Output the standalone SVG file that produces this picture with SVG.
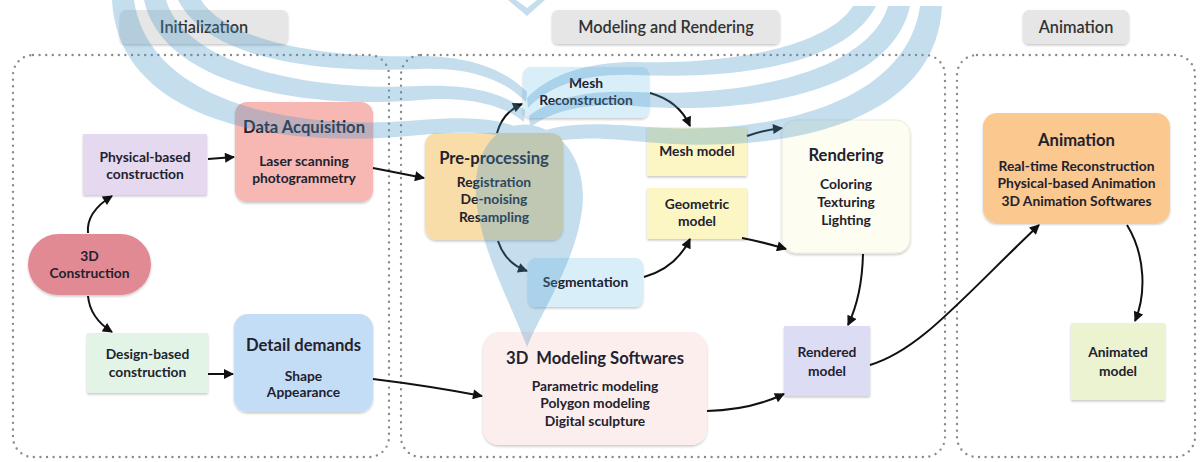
<svg xmlns="http://www.w3.org/2000/svg" width="1200" height="462" viewBox="0 0 1200 462">
  <defs>
    <filter id="shadow" x="-10%" y="-10%" width="120%" height="130%">
      <feDropShadow dx="0" dy="1.5" stdDeviation="1.2" flood-color="#000" flood-opacity="0.22"/>
    </filter>
    <marker id="arrow" viewBox="0 0 10 10" refX="9" refY="5" markerWidth="11" markerHeight="10" markerUnits="userSpaceOnUse" orient="auto">
      <path d="M0,0 L10,5 L0,10 Z" fill="#111"/>
    </marker>
    <style>
      .stage { fill: none; stroke: #8a8a8a; stroke-width: 2.4; stroke-dasharray: 0 6.6; stroke-linecap: round; }
      .hdr { fill: #e6e6e6; filter: url(#shadow); }
      .hdrtxt { font-family: Lato, "Liberation Sans", sans-serif; font-size: 16.3px; font-weight: 600; fill: #333; text-anchor: middle; }
      .box { filter: url(#shadow); }
      .t { font-family: Lato, "Liberation Sans", sans-serif; font-size: 13.8px; font-weight: 700; fill: #22222e; text-anchor: middle; }
      .title { font-family: Lato, "Liberation Sans", sans-serif; font-size: 16.6px; font-weight: 700; fill: #22222e; text-anchor: middle; }
      .edge { fill: none; stroke: #111; stroke-width: 2; marker-end: url(#arrow); }
      .mark { fill: #4a97c9; }
    </style>
  </defs>

  <rect width="1200" height="462" fill="#ffffff"/>

  <!-- stage frames -->
  <g id="stages">
    <rect class="stage" x="13" y="55" width="376" height="402" rx="20"/>
    <rect class="stage" x="401" y="55" width="544" height="402" rx="20"/>
    <rect class="stage" x="957" y="55" width="238" height="402" rx="20"/>
  </g>

  <!-- stage headers -->
  <g id="hdr-init">
    <rect class="hdr" x="120" y="10" width="168" height="34" rx="6"/>
    <text class="hdrtxt" x="204" y="33">Initialization</text>
  </g>
  <g id="hdr-model">
    <rect class="hdr" x="552" y="10" width="228" height="34" rx="6"/>
    <text class="hdrtxt" x="666" y="33">Modeling and Rendering</text>
  </g>
  <g id="hdr-anim">
    <rect class="hdr" x="1023" y="10" width="106" height="34" rx="6"/>
    <text class="hdrtxt" x="1076" y="33">Animation</text>
  </g>

  <!-- nodes -->
  <g id="n-construction">
    <rect class="box" x="28" y="234" width="123" height="61" rx="30.5" fill="#e28a94"/>
    <text class="t" x="89.5" y="261">3D</text>
    <text class="t" x="89.5" y="278">Construction</text>
  </g>
  <g id="n-physical">
    <rect class="box" x="83" y="134" width="124" height="61" rx="1" fill="#e5d9f0"/>
    <text class="t" x="145" y="162">Physical-based</text>
    <text class="t" x="145" y="179">construction</text>
  </g>
  <g id="n-acquisition">
    <rect class="box" x="235" y="102" width="138" height="100" rx="12" fill="#f7b7b3"/>
    <text class="title" x="304" y="133">Data Acquisition</text>
    <text class="t" x="304" y="166">Laser scanning</text>
    <text class="t" x="304" y="183">photogrammetry</text>
  </g>
  <g id="n-design">
    <rect class="box" x="87" y="333" width="121" height="60" rx="1" fill="#e2f4e6"/>
    <text class="t" x="147.5" y="359">Design-based</text>
    <text class="t" x="147.5" y="377">construction</text>
  </g>
  <g id="n-detail">
    <rect class="box" x="234" y="314" width="139" height="98" rx="14" fill="#c4ddf6"/>
    <text class="title" x="303.5" y="351">Detail demands</text>
    <text class="t" x="303.5" y="381">Shape</text>
    <text class="t" x="303.5" y="397">Appearance</text>
  </g>
  <g id="n-preprocessing">
    <rect class="box" x="425" y="133" width="138" height="107" rx="12" fill="#f8dda9"/>
    <text class="title" x="494" y="164">Pre-processing</text>
    <text class="t" x="494" y="187">Registration</text>
    <text class="t" x="494" y="204">De-noising</text>
    <text class="t" x="494" y="222">Resampling</text>
  </g>
  <g id="n-meshrec">
    <rect class="box" x="523" y="67" width="126" height="51" rx="8" fill="#d8eef9"/>
    <text class="t" x="586" y="88">Mesh</text>
    <text class="t" x="586" y="105">Reconstruction</text>
  </g>
  <g id="n-segmentation">
    <rect class="box" x="528" y="258" width="115" height="49" rx="8" fill="#d8eef9"/>
    <text class="t" x="585.5" y="287">Segmentation</text>
  </g>
  <g id="n-meshmodel">
    <rect class="box" x="647" y="127" width="100" height="49" rx="1" fill="#fbf6c4"/>
    <text class="t" x="697" y="156">Mesh model</text>
  </g>
  <g id="n-geometric">
    <rect class="box" x="647" y="188" width="100" height="51" rx="1" fill="#fbf6c4"/>
    <text class="t" x="697" y="209">Geometric</text>
    <text class="t" x="697" y="226">model</text>
  </g>
  <g id="n-rendering">
    <rect class="box" x="782" y="120" width="128" height="133" rx="14" fill="#fdfdf1" stroke="#ececdc" stroke-width="1"/>
    <text class="title" x="846" y="161">Rendering</text>
    <text class="t" x="846" y="189">Coloring</text>
    <text class="t" x="846" y="207">Texturing</text>
    <text class="t" x="846" y="225">Lighting</text>
  </g>
  <g id="n-software">
    <rect class="box" x="483" y="332" width="224" height="113" rx="16" fill="#fdeeee"/>
    <text class="title" x="595" y="364" xml:space="preserve">3D  Modeling Softwares</text>
    <text class="t" x="595" y="391">Parametric modeling</text>
    <text class="t" x="595" y="408">Polygon modeling</text>
    <text class="t" x="595" y="426">Digital sculpture</text>
  </g>
  <g id="n-rendered">
    <rect class="box" x="784" y="326" width="86" height="70" rx="1" fill="#dddcf5"/>
    <text class="t" x="827" y="357">Rendered</text>
    <text class="t" x="827" y="376">model</text>
  </g>
  <g id="n-animation">
    <rect class="box" x="983" y="113" width="187" height="110" rx="14" fill="#fbc88f"/>
    <text class="title" x="1076.5" y="146">Animation</text>
    <text class="t" x="1076.5" y="171">Real-time Reconstruction</text>
    <text class="t" x="1076.5" y="188">Physical-based Animation</text>
    <text class="t" x="1076.5" y="206">3D Animation Softwares</text>
  </g>
  <g id="n-animated">
    <rect class="box" x="1071" y="323" width="94" height="77" rx="1" fill="#ebf3d0"/>
    <text class="t" x="1118" y="357">Animated</text>
    <text class="t" x="1118" y="376">model</text>
  </g>

  <!-- connectors -->
  <g id="connectors">
    <path class="edge" d="M88,233 Q86,212 112,196"/>
    <path class="edge" d="M88,296 Q90,318 112,332"/>
    <path class="edge" d="M208,159 L234,157"/>
    <path class="edge" d="M373,168 L424,178"/>
    <path class="edge" d="M208,374 L233,374"/>
    <path class="edge" d="M373,379 Q430,386 482,396"/>
    <path class="edge" d="M497,133 Q503,112 522,104"/>
    <path class="edge" d="M650,93 Q679,101 690,126"/>
    <path class="edge" d="M498,241 Q505,263 527,271"/>
    <path class="edge" d="M644,277 Q676,268 690,239"/>
    <path class="edge" d="M747,136 Q763,130 782,128"/>
    <path class="edge" d="M742,238 Q763,242 786,249"/>
    <path class="edge" d="M863,254 Q862,296 848,325"/>
    <path class="edge" d="M707,411 Q750,410 784,394"/>
    <path class="edge" d="M870,365 C920,350 960,300 1039,225"/>
    <path class="edge" d="M1127,225 C1146,256 1146,295 1135,321"/>
  </g>

  <!-- faint emblem laid over the page -->
  <g id="emblem" opacity="0.32">
    <g id="wing">
      <path class="mark" d="M112,0 C118,122 280,150 420,135 C470,130 500,132 522,144 L524,130 C500,118 468,116 420,120 C290,132 148,100 134,0 Z"/>
      <path class="mark" d="M144,0 C162,84 300,110 420,100 C470,96 505,106 524,122 L525,110 C502,92 468,84 420,86 C300,92 184,62 166,0 Z"/>
      <path class="mark" d="M178,0 C206,54 300,74 420,69 C470,67 505,80 526,102 L527,92 C506,70 470,56 420,56 C322,59 226,40 201,0 Z"/>
    </g>
    <use href="#wing" transform="matrix(-1,0,0,1,1054,6)"/>
    <path class="mark" d="M527,347 C510,300 472,235 476,180 C480,135 510,122 530,125 C565,130 588,165 582,210 C576,260 545,305 527,347 Z"/>
    <path class="mark" d="M508,0 L527,16 L545,0 L537,0 L527,8 L516,0 Z"/>
  </g>
</svg>
